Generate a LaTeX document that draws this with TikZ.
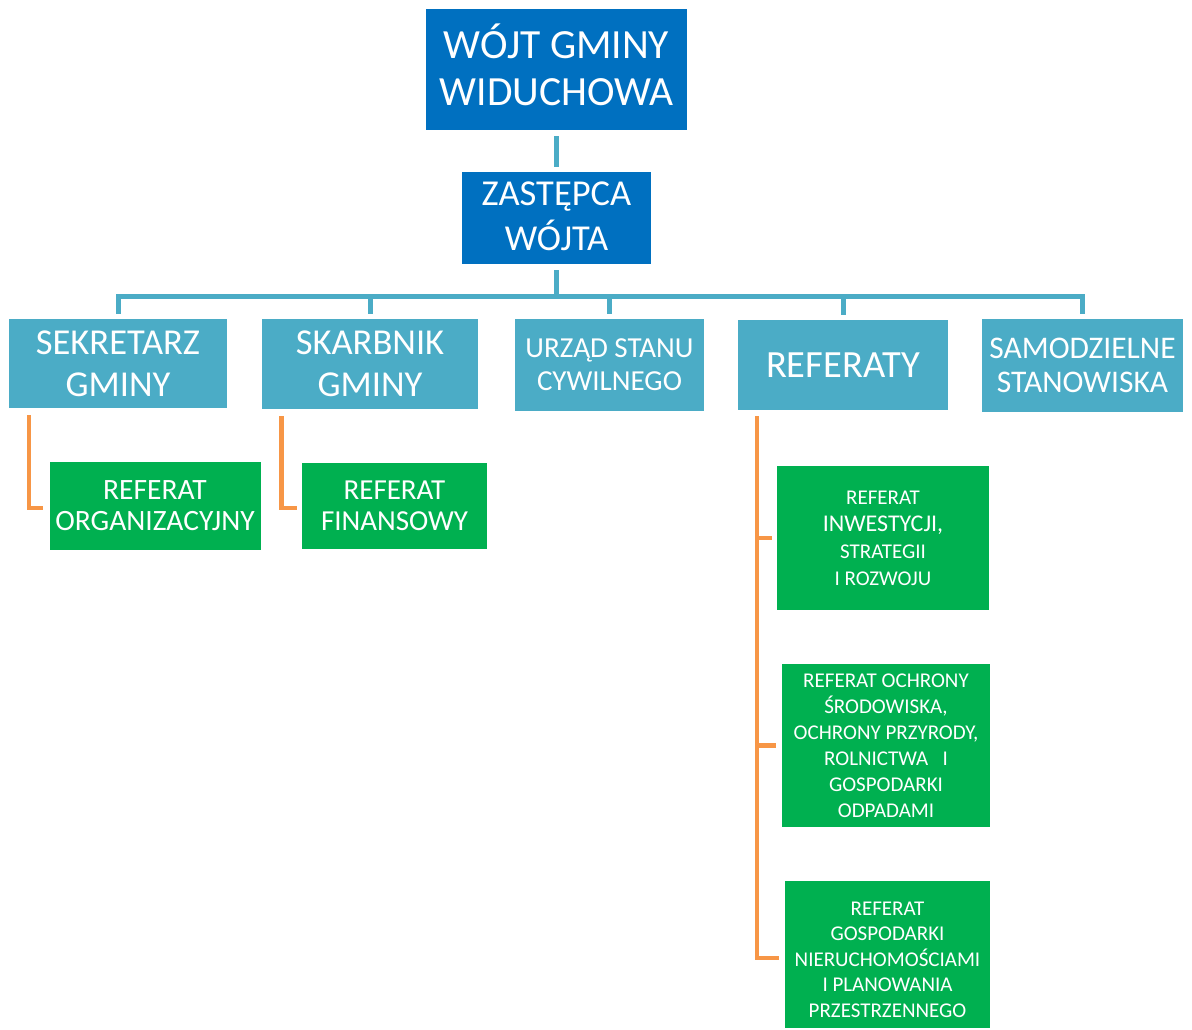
\documentclass[tikz,border=0pt]{standalone}
\usepackage{fontspec}
\setmainfont{Carlito}
\definecolor{dblue}{HTML}{0070C0}
\definecolor{tealc}{HTML}{4BACC6}
\definecolor{greenc}{HTML}{00B050}
\definecolor{orangec}{HTML}{F79646}
\newcommand{\fsz}[2]{\fontsize{#1}{#2}\selectfont}
\newcommand{\lowstrut}[1]{\rule[-#1]{0pt}{1pt}}
\newcommand{\highstrut}[1]{\rule{0pt}{#1}}
\tikzset{
  box/.style={rectangle, inner sep=0pt, align=center, text=white},
  headbox/.style={box, fill=dblue},
  midbox/.style={box, fill=tealc},
  leafbox/.style={box, fill=greenc},
  busline/.style={draw=tealc, line width=5pt},
  linkline/.style={draw=orangec, line width=4.5pt},
}
\begin{document}
\begin{tikzpicture}[x=1pt,y=-1pt]
\useasboundingbox (0,0) rectangle (1192,1029);
% top
\node[headbox, minimum width=261pt, minimum height=121pt, font=\fsz{41.5}{46.5}] (wojt) at (556.5,69.5) {WÓJT GMINY\\WIDUCHOWA\lowstrut{10pt}};
\node[headbox, minimum width=189pt, minimum height=92pt, font=\fsz{36.5}{45}] (zast) at (556.5,218) {ZASTĘPCA\\WÓJTA\lowstrut{4pt}};
% second level
\node[midbox, minimum width=218pt, minimum height=89pt, font=\fsz{36.5}{42}] (sekr) at (118,363.5) {SEKRETARZ\\GMINY};
\node[midbox, minimum width=216pt, minimum height=90pt, font=\fsz{36.5}{42}] (skarb) at (370,364) {SKARBNIK\\GMINY};
\node[midbox, minimum width=189pt, minimum height=92pt, font=\fsz{29}{33}] (usc) at (609.5,365) {URZĄD STANU\\CYWILNEGO};
\node[midbox, minimum width=210pt, minimum height=90pt, font=\fsz{38.5}{46}] (ref) at (843,365) {REFERATY};
\node[midbox, minimum width=201pt, minimum height=93pt, font=\fsz{31.5}{33.5}] (samo) at (1082.5,365.5) {SAMODZIELNE\\STANOWISKA};
% leaves
\node[leafbox, minimum width=211pt, minimum height=88pt, font=\fsz{29.5}{31.5}] (g1) at (155,505.5) {REFERAT\\ORGANIZACYJNY};
\node[leafbox, minimum width=185pt, minimum height=86pt, font=\fsz{29}{31.5}] (g2) at (394.5,506) {REFERAT\\FINANSOWY};
\node[leafbox, minimum width=212pt, minimum height=144pt, font=\fsz{21}{27}] (g3) at (883,538) {REFERAT\\{\fsz{24}{27}INWESTYCJI,}\\STRATEGII\\I ROZWOJU};
\node[leafbox, minimum width=208pt, minimum height=163pt, font=\fsz{21}{26}] (g4) at (886,745.5) {REFERAT OCHRONY\\ŚRODOWISKA,\\OCHRONY PRZYRODY,\\ROLNICTWA\ \ \ I\\GOSPODARKI\\ODPADAMI};
\node[leafbox, minimum width=205pt, minimum height=147pt, font=\fsz{21}{25.5}] (g5) at (887.5,954.5) {\highstrut{24pt}REFERAT\\GOSPODARKI\\NIERUCHOMOŚCIAMI\\I PLANOWANIA\\PRZESTRZENNEGO};
% teal connectors
\coordinate (busy) at (556.5,296);
\draw[busline, shorten <=6pt, shorten >=5pt] (wojt) -- (zast);
\draw[busline, shorten <=6pt] (zast.south) -- (busy);
\foreach \n in {sekr,skarb,usc,ref,samo}
  \draw[busline, shorten >=5pt] (busy) -| (\n.north);
% orange connectors
\draw[linkline, shorten <=7pt, shorten >=6pt] ([xshift=20pt]sekr.south west) |- ([yshift=-2.5pt]g1.west);
\draw[linkline, shorten <=7pt, shorten >=5pt] ([xshift=19.5pt]skarb.south west) |- ([yshift=-2pt]g2.west);
\draw[linkline, shorten <=6pt, shorten >=5pt] ([xshift=19pt]ref.south west) |- (g3.west);
\draw[linkline, shorten <=6pt, shorten >=6pt] ([xshift=19pt]ref.south west) |- (g4.west);
\draw[linkline, shorten <=6pt, shorten >=6pt] ([xshift=19pt]ref.south west) |- ([yshift=-3.5pt]g5.west);
\end{tikzpicture}
\end{document}
